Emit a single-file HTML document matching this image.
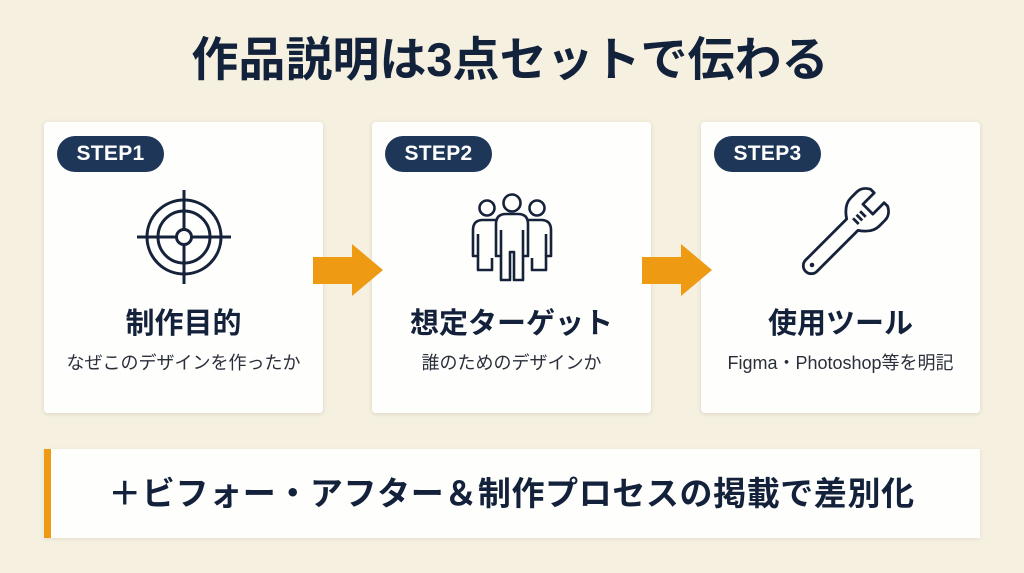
<!DOCTYPE html>
<html><head><meta charset="utf-8"><style>
*{margin:0;padding:0;box-sizing:border-box}
html,body{width:1024px;height:573px;overflow:hidden}
body{background:#F5F0E0;position:relative;font-family:"Liberation Sans","Noto Sans CJK JP",sans-serif;color:#14223A}
.title{position:absolute;left:0;top:30px;width:1020px;height:60px;line-height:60px;text-align:center;font-size:47px;font-weight:700;color:#13223B}
.card{position:absolute;top:122px;width:279px;height:291px;background:#FEFEFD;border-radius:4px;box-shadow:0 1px 5px rgba(90,70,30,0.16)}
.badge{position:absolute;left:13px;top:14px;width:107px;height:36px;border-radius:18px;background:#1E3658;color:#fff;font-weight:700;font-size:21px;line-height:36px;text-align:center;letter-spacing:0.3px}
.ct{position:absolute;left:0;width:100%;top:182px;height:40px;line-height:40px;text-align:center;font-size:29px;font-weight:700;color:#14213A}
.cs{position:absolute;left:0;width:100%;top:229px;height:24px;line-height:24px;text-align:center;font-size:18px;color:#2A2F3A}
.banner{position:absolute;left:44px;top:449px;width:936px;height:89px;background:#FEFEFD;border-left:7px solid #EE9A12;box-shadow:0 1px 4px rgba(90,70,30,0.10)}
.banner div{position:absolute;left:-4px;top:0;width:100%;height:89px;line-height:89px;text-align:center;font-size:33px;font-weight:700;color:#14213A;letter-spacing:0.6px}
svg{position:absolute;left:0;top:0}
</style></head><body>
<div class="title">作品説明は3点セットで伝わる</div>

<div class="card" style="left:44px"><div class="badge">STEP1</div><div class="ct">制作目的</div><div class="cs">なぜこのデザインを作ったか</div></div>
<div class="card" style="left:372px"><div class="badge">STEP2</div><div class="ct">想定ターゲット</div><div class="cs">誰のためのデザインか</div></div>
<div class="card" style="left:701px"><div class="badge">STEP3</div><div class="ct">使用ツール</div><div class="cs">Figma・Photoshop等を明記</div></div>

<div class="banner"><div>＋ビフォー・アフター＆制作プロセスの掲載で差別化</div></div>

<svg width="1024" height="573" viewBox="0 0 1024 573">
  <!-- arrows -->
  <polygon points="313,257 352,257 352,244 383,270 352,296 352,284 313,284" fill="#EE9A12"/>
  <polygon points="642,257 681,257 681,244 712,270 681,296 681,284 642,284" fill="#EE9A12"/>
  <!-- target -->
  <g fill="none" stroke="#16223A" stroke-width="3" stroke-linecap="butt">
    <circle cx="184" cy="237" r="37"/>
    <circle cx="184" cy="237" r="26"/>
    <circle cx="184" cy="237" r="7.5"/>
    <line x1="184" y1="190" x2="184" y2="229.5"/>
    <line x1="184" y1="244.5" x2="184" y2="284"/>
    <line x1="137" y1="237" x2="176.5" y2="237"/>
    <line x1="191.5" y1="237" x2="231" y2="237"/>
  </g>
  <!-- people -->
  <g fill="none" stroke="#16223A" stroke-width="2.6" stroke-linejoin="round">
    <circle cx="512" cy="203" r="8.5"/>
    <circle cx="487" cy="208" r="7.5"/>
    <circle cx="537" cy="208" r="7.5"/>
    <path d="M501 256 L496 256 L496 224 Q496 214 506 214 L518 214 Q528 214 528 224 L528 256 L523 256 L523 280 L514 280 L514 252 L510 252 L510 280 L501 280 Z"/>
    <line x1="501" y1="230" x2="501" y2="256"/>
    <line x1="523" y1="230" x2="523" y2="256"/>
    <path d="M496 220 L483 220 Q473 220 473 230 L473 256 L478 256 L478 270 L492 270 L492 258"/>
    <line x1="478" y1="234" x2="478" y2="256"/>
    <path d="M528 220 L541 220 Q551 220 551 230 L551 256 L546 256 L546 270 L532 270 L532 258"/>
    <line x1="546" y1="234" x2="546" y2="256"/>
  </g>
  <!-- wrench -->
  <g transform="translate(841,236) rotate(45)" fill="none" stroke="#16223A" stroke-width="2.8" stroke-linejoin="round">
    <path d="M-8 -16 L-8 42 A8 8 0 0 0 8 42 L8 -16 C14 -20 20 -26 20 -34 L20 -42 C20 -48 16 -52 12 -54 L7 -54 L7 -38 L-7 -38 L-7 -54 L-12 -54 C-16 -52 -20 -48 -20 -42 L-20 -34 C-20 -26 -14 -20 -8 -16 Z"/>
    <line x1="-4" y1="-31" x2="4" y2="-31"/>
    <line x1="-4" y1="-26" x2="4" y2="-26"/>
    <line x1="-4" y1="-21" x2="4" y2="-21"/>
    <circle cx="0" cy="41" r="2.3" fill="#16223A" stroke="none"/>
  </g>
</svg>
</body></html>
